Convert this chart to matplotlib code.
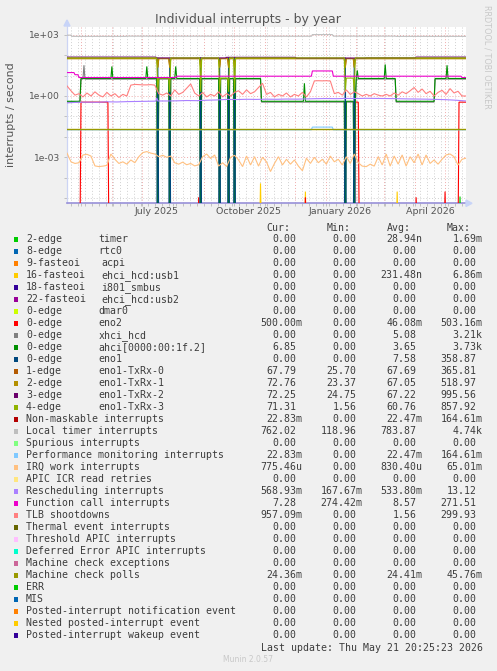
import datetime as dt

import matplotlib

matplotlib.use("Agg")
import matplotlib.dates as mdates
import matplotlib.pyplot as plt
import numpy as np
from matplotlib.patches import Polygon, Rectangle
from matplotlib.ticker import FixedLocator, NullFormatter

W, H = 497, 671
DAYS = 400  # munin "by year" window
ZERO = 1e-7  # a zero reading, parked below the log axis
T0 = dt.datetime(2025, 4, 16, 20, 25, 23)

# ---------------- legend table ----------------
irq_names = [
    "2-edge", "8-edge", "9-fasteoi", "16-fasteoi", "18-fasteoi", "22-fasteoi",
    "0-edge", "0-edge", "0-edge", "0-edge", "0-edge", "1-edge", "2-edge",
    "3-edge", "4-edge", "Non-maskable interrupts", "Local timer interrupts",
    "Spurious interrupts", "Performance monitoring interrupts",
    "IRQ work interrupts", "APIC ICR read retries", "Rescheduling interrupts",
    "Function call interrupts", "TLB shootdowns", "Thermal event interrupts",
    "Threshold APIC interrupts", "Deferred Error APIC interrupts",
    "Machine check exceptions", "Machine check polls", "ERR", "MIS",
    "Posted-interrupt notification event", "Nested posted-interrupt event",
    "Posted-interrupt wakeup event",
]
irq_descs = [
    "timer", "rtc0", "acpi", "ehci_hcd:usb1", "i801_smbus", "ehci_hcd:usb2",
    "dmar0", "eno2", "xhci_hcd", "ahci[0000:00:1f.2]", "eno1", "eno1-TxRx-0",
    "eno1-TxRx-1", "eno1-TxRx-2", "eno1-TxRx-3",
] + [""] * 19
colours = [
    "#00CC00", "#0066B3", "#FF8000", "#FFCC00", "#330099", "#990099", "#CCFF00",
    "#FF0000", "#808080", "#008F00", "#00487D", "#B35A00", "#B38F00", "#6B006B",
    "#8FB300", "#B30000", "#BEBEBE", "#80FF80", "#80C9FF", "#FFC080", "#FFE680",
    "#AA80FF", "#EE00CC", "#FF8080", "#666600", "#FFBFFF", "#00FFCC", "#CC6699",
    "#999900", "#00CC00", "#0066B3", "#FF8000", "#FFCC00", "#330099",
]
cur_col = ["0.00", "0.00", "0.00", "0.00", "0.00", "0.00", "0.00", "500.00m",
           "0.00", "6.85", "0.00", "67.79", "72.76", "72.25", "71.31", "22.83m",
           "762.02", "0.00", "22.83m", "775.46u", "0.00", "568.93m", "7.28",
           "957.09m", "0.00", "0.00", "0.00", "0.00", "24.36m", "0.00", "0.00",
           "0.00", "0.00", "0.00"]
min_col = ["0.00"] * 11 + ["25.70", "23.37", "24.75", "1.56", "0.00", "118.96",
           "0.00", "0.00", "0.00", "0.00", "167.67m", "274.42m"] + ["0.00"] * 11
avg_col = ["28.94n", "0.00", "0.00", "231.48n", "0.00", "0.00", "0.00", "46.08m",
           "5.08", "3.65", "7.58", "67.69", "67.05", "67.22", "60.76", "22.47m",
           "783.87", "0.00", "22.47m", "830.40u", "0.00", "533.80m", "8.57",
           "1.56", "0.00", "0.00", "0.00", "0.00", "24.41m", "0.00", "0.00",
           "0.00", "0.00", "0.00"]
max_col = ["1.69m", "0.00", "0.00", "6.86m", "0.00", "0.00", "0.00", "503.16m",
           "3.21k", "3.73k", "358.87", "365.81", "518.97", "995.56", "857.92",
           "164.61m", "4.74k", "0.00", "164.61m", "65.01m", "0.00", "13.12",
           "271.51", "299.93", "0.00", "0.00", "0.00", "0.00", "45.76m", "0.00",
           "0.00", "0.00", "0.00", "0.00"]

# ---------------- series (day offsets from T0) ----------------
outage_days = [91, 103, 134, 153, 162, 168, 279, 288]

timer_spikes = {394: 1.2e-5}
usb1_spikes = {194: 5.3e-5, 239: 2.1e-5, 331: 2.1e-5}

eno2_breaks = [0, 14, 42, 289, 293, 393, DAYS + 1]
eno2_levels = [0, 0.5, 0, 0.5, 0, 0.5]
eno2_spikes = {132: 1.1e-5, 239: 1.1e-5, 279: 3.5e-5, 350: 1.1e-5, 379: 2.1e-5}

ahci_breaks = [0, 14, 195, 290, 330, 369, DAYS + 1]
ahci_levels = [0.55, 7.2, 0.55, 7.2, 0.55, 7.2]
ahci_spikes = {45: 28, 80: 28, 109: 28, 238: 4.2, 291: 18, 319: 35, 381: 32}
xhci_levels = [0.5, 6.7, 0.5, 6.7, 0.5, 6.7]
xhci_spikes = {17: 32}

eno1_spikes = {91: 75, 103: 70, 134: 78, 153: 72, 162: 76, 168: 74, 279: 76, 288: 72}

txrx0_level, txrx0_dip = 68, 26
txrx1_level, txrx1_dip = 67, 24
txrx2_breaks = [0, 90, 160, 230, 300, 350, DAYS + 1]
txrx2_levels = [80, 73, 78, 72, 74, 80]
txrx3_breaks = [0, 92, 103, 154, 162, 280, 288, DAYS + 1]
txrx3_levels = [73, 7.5, 73, 7.5, 73, 7.5, 73]

loc_breaks = [0, 5, 60, 150, 246, 267, 330, DAYS + 1]
loc_levels = [950, 830, 850, 840, 1010, 850, 830]
# NMI follows the performance-monitoring counter exactly and sits hidden under it
pmi_breaks = [0, 246, 267, DAYS + 1]
pmi_levels = [0.0221, 0.030, 0.0221]
mcp_level = 0.0244

# IRQ work and TLB shootdowns, read every 4 days
irq_work = [1.6e-3, 6e-4, 5e-4, 5.4e-4, 1.3e-3, 1.4e-3, 1.15e-3, 3.8e-4, 3.5e-4, 3.7e-4,
            4e-4, 1.45e-3, 8e-4, 5e-4, 6e-4, 4.6e-4, 7.4e-4, 5.4e-4, 1.07e-3, 1.7e-3,
            1.9e-3, 1.6e-3, 1.45e-3, 1.07e-3, 1.25e-3, 1.0e-3, 1.15e-3, 5.4e-4, 4.6e-4, 5.8e-4,
            4.3e-4, 5e-4, 3.8e-4, 4.3e-4, 1.07e-3, 1.45e-3, 8.7e-4, 1.3e-3, 3.7e-4, 5.4e-4,
            3.5e-4, 1.0e-3, 1.25e-3, 7.4e-4, 3.5e-4, 1.15e-3, 4.2e-4, 1.07e-3, 3.7e-4, 1.0e-3,
            6e-4, 2e-4, 5e-4, 1.07e-3, 4.2e-4, 8e-4, 4.6e-4, 7.4e-4, 3.7e-4, 2.2e-4,
            9e-4, 5e-4, 1.0e-3, 5.4e-4, 8e-4, 4.6e-4, 1.15e-3, 6e-4, 8e-4, 4.2e-4,
            1.07e-3, 5e-4, 1.45e-3, 5.4e-4, 3.7e-4, 3.5e-4, 4.6e-4, 3.7e-4, 1.07e-3, 4.2e-4,
            1.45e-3, 3.7e-4, 1.15e-3, 4.6e-4, 1.3e-3, 3.7e-4, 1.07e-3, 5.4e-4, 1.45e-3, 4.2e-4,
            1.3e-3, 5e-4, 7.4e-4, 4.6e-4, 8e-4, 1.3e-3, 1.45e-3, 1.07e-3, 4.2e-4, 8e-4, 9e-4]
tlb = [3.1, 1.8, 1.1, 1.3, 0.9, 1.4, 1.0, 1.6, 1.1, 0.9,
       1.5, 1.0, 1.3, 0.85, 1.2, 1.0, 3.4, 3.7, 3.6, 3.5,
       3.5, 3.6, 3.4, 1.3, 1.1, 1.4, 1.0, 2.0, 1.2, 1.5,
       2.4, 3.9, 1.4, 1.0, 1.5, 0.9, 1.2, 1.0, 1.6, 0.9,
       1.3, 1.0, 1.5, 1.8, 1.2, 2.0, 1.3, 1.6, 2.6, 4.2,
       1.2, 1.5, 0.9, 1.2, 1.0, 1.4, 0.9, 1.2, 1.0, 1.5,
       0.9, 1.6, 5.5, 5.6, 5.5, 5.6, 5.4, 1.3, 1.5, 1.1,
       2.0, 1.2, 1.6, 1.3, 1.0, 1.2, 1.0, 1.3, 1.1, 1.0,
       1.2, 1.0, 1.4, 1.1, 1.6, 1.3, 1.8, 2.6, 1.5, 2.2,
       1.3, 1.7, 1.0, 1.5, 1.9, 1.2, 2.3, 1.4, 1.7, 1.0, 1.0]

res_days = [0, 10, 20, 30, 40, 50, 60, 70, 80, 89, 90, 91, 100, 110, 120, 130, 140,
            150, 160, 170, 180, 190, 200, 210, 220, 230, 240, 250, 260, 270, 280,
            290, 300, 310, 320, 330, 340, 350, 360, 370, 380, 390, 400]
res_vals = [0.46, 0.49, 0.50, 0.49, 0.52, 0.51, 0.53, 0.54, 0.55, 0.56, 0.80, 0.57,
            0.57, 0.58, 0.60, 0.59, 0.62, 0.64, 0.68, 0.67, 0.69, 0.68, 0.70, 0.69,
            0.71, 0.70, 0.72, 0.74, 0.75, 0.74, 0.76, 0.75, 0.77, 0.76, 0.75, 0.74,
            0.72, 0.71, 0.70, 0.68, 0.66, 0.62, 0.57]

cal_breaks = [0, 8, 12, 110, 246, 267, 396, DAYS + 1]
cal_levels = [14, 11, 8.0, 9.3, 16.8, 9.3, 8.0]


def daily(breaks=None, levels=None, spikes=None, dips=None, dip_value=0.0):
    y = np.zeros(DAYS + 1)
    if breaks:
        for a, b, v in zip(breaks[:-1], breaks[1:], levels):
            y[a:b] = v
    for d, v in (spikes or {}).items():
        y[d] = v
    for d in dips or []:
        y[d] = dip_value
    return np.where(y > 0, y, ZERO)


t0 = mdates.date2num(T0)
day_x = t0 + np.arange(DAYS + 1)
step4_x = t0 + 4 * np.arange(len(tlb))

series = {
    0: (day_x, daily(spikes=timer_spikes)),
    3: (day_x, daily(spikes=usb1_spikes)),
    7: (day_x, daily(eno2_breaks, eno2_levels, eno2_spikes)),
    8: (day_x, daily(ahci_breaks, xhci_levels, xhci_spikes, outage_days)),
    9: (day_x, daily(ahci_breaks, ahci_levels, ahci_spikes, outage_days)),
    10: (day_x, daily(spikes=eno1_spikes)),
    11: (day_x, daily([0, DAYS + 1], [txrx0_level], dips=outage_days, dip_value=txrx0_dip)),
    12: (day_x, daily([0, DAYS + 1], [txrx1_level], dips=outage_days, dip_value=txrx1_dip)),
    13: (day_x, daily(txrx2_breaks, txrx2_levels)),
    14: (day_x, daily(txrx3_breaks, txrx3_levels, dips=outage_days, dip_value=1.6)),
    16: (day_x, daily(loc_breaks, loc_levels)),
    18: (day_x, daily(pmi_breaks, pmi_levels)),
    19: (t0 + 4 * np.arange(len(irq_work)), np.array(irq_work)),
    21: (t0 + np.array(res_days), np.array(res_vals)),
    22: (day_x, daily(cal_breaks, cal_levels)),
    23: (step4_x, np.array(tlb)),
    28: (day_x, daily([0, DAYS + 1], [mcp_level])),
}
line_width = {28: 1.0}

# ---------------- figure ----------------
fig = plt.figure(figsize=(W / 100, H / 100), dpi=100, facecolor="#f0f0f0")
top_px, bot_px, left_px, right_px = 26.5, 203.3, 67, 466
ax = fig.add_axes([left_px / W, 1 - bot_px / H, (right_px - left_px) / W, (bot_px - top_px) / H])
ax.set_facecolor("white")

for i, (x, y) in series.items():
    ax.plot(x, y, color=colours[i], lw=line_width.get(i, 0.8), zorder=3 + i * 0.01,
            solid_joinstyle="miter")

ax.set_yscale("log")
ax.set_ylim(10 ** -5.252, 10 ** 3.401)
ax.set_xlim(t0, t0 + DAYS)

ax.yaxis.set_major_locator(FixedLocator([1e3, 1, 1e-3]))
ax.yaxis.set_minor_locator(FixedLocator([1e2, 1e1, 1e-1, 1e-2, 1e-4, 1e-5]))
ax.yaxis.set_minor_formatter(NullFormatter())
ax.set_yticklabels(["1e+03", "1e+00", "1e-03"])

ax.xaxis.set_major_locator(mdates.MonthLocator())
ax.xaxis.set_minor_locator(mdates.WeekdayLocator(byweekday=mdates.MO))
ax.xaxis.set_major_formatter(NullFormatter())
for lab_date, lab in [(dt.datetime(2025, 7, 16), "July 2025"),
                      (dt.datetime(2025, 10, 16), "October 2025"),
                      (dt.datetime(2026, 1, 16), "January 2026"),
                      (dt.datetime(2026, 4, 16), "April 2026")]:
    ax.text(mdates.date2num(lab_date), -0.045, lab, transform=ax.get_xaxis_transform(),
            ha="center", va="center", fontsize=6.8, color="#555555")

ax.grid(which="major", color="#eeaaaa", linestyle=(0, (1, 2)), lw=0.7, zorder=1)
ax.grid(which="minor", color="#d0d0d0", linestyle=(0, (1, 2)), lw=0.7, zorder=1)
ax.set_axisbelow(True)
ax.tick_params(which="both", direction="out", length=2, width=0.6, color="#b8b8b8",
               labelsize=6.6, labelcolor="#555555", pad=3)

for side in ("top", "right"):
    ax.spines[side].set_visible(False)
ax.spines["left"].set_color("#ccd4f4")
ax.spines["left"].set_linewidth(0.9)
ax.spines["bottom"].set_color("#9890d8")
ax.spines["bottom"].set_linewidth(1.2)


def px(x, y):
    return (x / W, 1 - y / H)


fig.add_artist(Polygon([px(64, 26), px(70, 26), px(67, 20)], closed=True,
                       transform=fig.transFigure, color="#c8d4f8", zorder=5))
fig.add_artist(Polygon([px(466, 200), px(466, 206.5), px(472, 203.3)], closed=True,
                       transform=fig.transFigure, color="#c8d4f8", zorder=5))

fig.text(*px(248, 19.3), "Individual interrupts - by year", ha="center", va="center",
         fontsize=9.0, color="#555555")
fig.text(*px(11, 115), "interrupts / second", ha="center", va="center", rotation=90,
         fontsize=7.9, color="#555555")
fig.text(*px(487, 57), "RRDTOOL / TOBI OETIKER", ha="center", va="center", rotation=270,
         fontsize=5.9, color="#c8c8c8")

# ---------------- legend ----------------
mono = dict(family="DejaVu Sans Mono", fontsize=7.15, color="#3c3c3c", va="center")
for lab, xl in zip(["Cur:", "Min:", "Avg:", "Max:"], [266.7, 326.7, 386.7, 446.7]):
    fig.text(*px(xl, 228.3), lab, ha="left", **mono)

col_edges = [302, 362.7, 422.7, 482.7]
for i, name in enumerate(irq_names):
    y = 239.3 + 12.0 * i
    fig.add_artist(Rectangle(px(13.8, y + 2.3), 4.6 / W, 4.6 / H, transform=fig.transFigure,
                             facecolor=colours[i], edgecolor="none"))
    fig.text(*px(26, y), name, ha="left", **mono)
    if irq_descs[i]:
        dx = 101 if "fasteoi" in name else 98.5
        fig.text(*px(dx, y), irq_descs[i], ha="left", **mono)
    for edge, col in zip(col_edges, [cur_col, min_col, avg_col, max_col]):
        v = col[i]
        xr = edge if v[-1].isalpha() else edge - 6
        fig.text(*px(xr, y), v, ha="right", **mono)

fig.text(*px(482.7, 647.7), "Last update: Thu May 21 20:25:23 2026", ha="right", **mono)
fig.text(*px(248, 660), "Munin 2.0.57", ha="center", va="center", fontsize=5.5,
         color="#c8c8c8")

fig.savefig("out.png", dpi=100, facecolor=fig.get_facecolor())
